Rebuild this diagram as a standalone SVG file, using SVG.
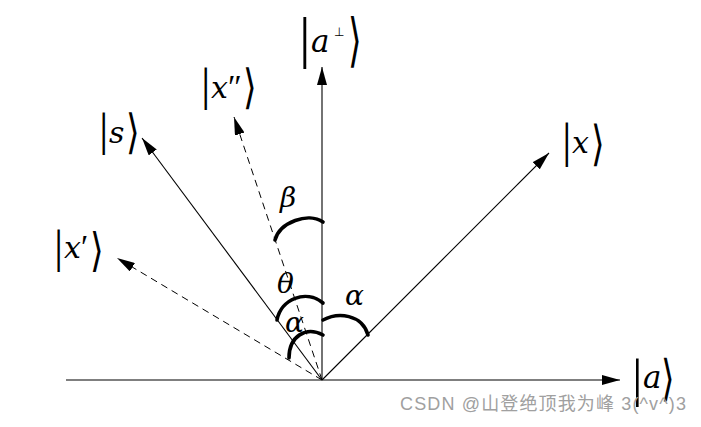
<svg xmlns="http://www.w3.org/2000/svg" width="701" height="427" viewBox="0 0 701 427">
<style>
.ln{stroke:#000;stroke-width:1.1;fill:none}
.ds{stroke:#000;stroke-width:1;fill:none;stroke-dasharray:7,5}
.arc{stroke:#000;stroke-width:3.6;fill:none;stroke-linecap:round}
.lbl{font-family:"DejaVu Serif",serif;fill:#000}
.it{font-style:italic}
.bar{font-family:"Liberation Serif",serif;font-style:normal}
.pr{font-family:"Liberation Serif",serif;font-style:normal;font-size:33px}
.br{font-family:"DejaVu Sans ExtraLight","DejaVu Sans",sans-serif;font-weight:200;font-size:22px;fill:#000}
.gk{font-family:"DejaVu Serif",serif;font-style:italic;font-size:28px;fill:#000}
.wm{font-family:"Liberation Sans","Noto Sans CJK SC",sans-serif;font-size:18px;fill:#a0a0a0}
</style>
<defs>
<marker id="ah" markerUnits="userSpaceOnUse" markerWidth="18" markerHeight="10" refX="18" refY="5" orient="auto">
<path d="M0,0 L18,5 L0,10 z" fill="#000"/>
</marker>
</defs>
<rect width="701" height="427" fill="#fff"/>
<g id="connectors">
<line class="ln" x1="66" y1="380" x2="620" y2="380" marker-end="url(#ah)"/>
<line class="ln" x1="322" y1="380" x2="322" y2="67" marker-end="url(#ah)"/>
<line class="ln" x1="322" y1="380" x2="549" y2="153" marker-end="url(#ah)"/>
<line class="ln" x1="322" y1="380" x2="142" y2="138" marker-end="url(#ah)"/>
<line class="ds" x1="322" y1="380" x2="117" y2="258" marker-end="url(#ah)"/>
<line class="ds" x1="322" y1="380" x2="234" y2="117" marker-end="url(#ah)"/>
</g>
<g id="angles">
<path class="arc" d="M275,240 C280,222 308,212 323,222"/>
<path class="arc" d="M277,320 C281,299 306,289 323,303"/>
<path class="arc" d="M289,358 C289,336 306,326 323,335"/>
<path class="arc" d="M323,320 C338,312 362,314 368,335"/>
<text class="gk" x="280" y="207">β</text>
<text class="gk" x="277" y="293">θ</text>
<text class="gk" x="285" y="332">α</text>
<text class="gk" x="345" y="305">α</text>
</g>
<g id="node-a-perp">
<text class="lbl"><tspan class="bar" x="299" y="57" font-size="58">|</tspan><tspan class="it" x="311" y="52" font-size="31">a</tspan><tspan font-family="DejaVu Sans" x="334" y="36" font-size="12">⊥</tspan></text>
<text class="br" transform="translate(347.5,59.8) scale(1.6,2.65)">⟩</text>
</g>
<g id="node-x2">
<text class="lbl"><tspan class="bar" x="201" y="100" font-size="47">|</tspan><tspan class="it" x="211" y="98" font-size="30">x</tspan><tspan class="pr" y="98">″</tspan></text>
<text class="br" transform="translate(242.5,103.4) scale(1.6,2.15)">⟩</text>
</g>
<g id="node-s">
<text class="lbl"><tspan class="bar" x="99" y="145" font-size="47">|</tspan><tspan class="it" x="109" y="143" font-size="30">s</tspan></text>
<text class="br" transform="translate(125.5,148.4) scale(1.6,2.15)">⟩</text>
</g>
<g id="node-x1">
<text class="lbl"><tspan class="bar" x="54" y="262" font-size="46">|</tspan><tspan class="it" x="64" y="258" font-size="30">x</tspan><tspan class="pr" y="258">′</tspan></text>
<text class="br" transform="translate(89.5,265.5) scale(1.6,2.1)">⟩</text>
</g>
<g id="node-x">
<text class="lbl"><tspan class="bar" x="562" y="157" font-size="48">|</tspan><tspan class="it" x="572" y="153" font-size="30">x</tspan></text>
<text class="br" transform="translate(590.5,160.2) scale(1.6,2.2)">⟩</text>
</g>
<g id="node-a">
<text class="lbl"><tspan class="bar" x="632" y="396" font-size="53">|</tspan><tspan class="it" x="643" y="388" font-size="31">a</tspan></text>
<text class="br" transform="translate(660.5,395) scale(1.6,2.25)">⟩</text>
</g>
<text class="wm" x="400" y="410" textLength="286" lengthAdjust="spacing">CSDN @山登绝顶我为峰 3(^v^)3</text>
</svg>
